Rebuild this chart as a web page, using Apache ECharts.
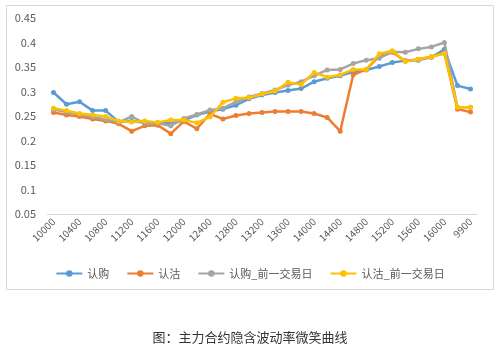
<!DOCTYPE html>
<html>
<head>
<meta charset="utf-8">
<script src="https://cdn.jsdelivr.net/npm/echarts@6/dist/echarts.min.js"></script>
<style>
  html, body { margin: 0; padding: 0; background: #fff; }
  #chart { width: 500px; height: 353px; }
</style>
</head>
<body>
<div id="chart"></div>
<script>
const strikes = ['10000', '10200', '10400', '10600', '10800', '11000', '11200', '11400', '11600', '11800',
  '12000', '12200', '12400', '12600', '12800', '13000', '13200', '13400', '13600', '13800',
  '14000', '14200', '14400', '14600', '14800', '15000', '15200', '15400', '15600', '15800',
  '16000', '16200', '9900'];

const callIV = [0.298, 0.274, 0.279, 0.261, 0.261, 0.238, 0.240, 0.236, 0.236, 0.235,
  0.241, 0.252, 0.259, 0.264, 0.272, 0.285, 0.293, 0.298, 0.302, 0.306,
  0.320, 0.327, 0.332, 0.340, 0.344, 0.351, 0.359, 0.363, 0.364, 0.370,
  0.386, 0.312, 0.305];

const putIV = [0.257, 0.252, 0.249, 0.244, 0.240, 0.234, 0.219, 0.230, 0.231, 0.214,
  0.239, 0.224, 0.254, 0.244, 0.251, 0.255, 0.257, 0.259, 0.259, 0.259,
  0.255, 0.247, 0.219, 0.334, 0.345, 0.372, 0.380, 0.362, 0.366, 0.371,
  0.378, 0.264, 0.258];

const callPrevIV = [0.263, 0.258, 0.253, 0.248, 0.243, 0.237, 0.249, 0.235, 0.235, 0.230,
  0.245, 0.253, 0.262, 0.266, 0.279, 0.289, 0.296, 0.303, 0.313, 0.320,
  0.332, 0.344, 0.345, 0.357, 0.364, 0.368, 0.381, 0.380, 0.387, 0.391,
  0.400, 0.268, 0.268];

const putPrevIV = [0.266, 0.261, 0.255, 0.252, 0.249, 0.240, 0.238, 0.240, 0.237, 0.242,
  0.242, 0.236, 0.248, 0.278, 0.286, 0.287, 0.295, 0.301, 0.319, 0.314,
  0.339, 0.329, 0.334, 0.345, 0.345, 0.377, 0.383, 0.361, 0.366, 0.371,
  0.378, 0.268, 0.268];

const seriesNames = ['认购', '认沽', '认购_前一交易日', '认沽_前一交易日'];
const seriesColors = ['#5B9BD5', '#ED7D31', '#A5A5A5', '#FFC000'];
const seriesData = [callIV, putIV, callPrevIV, putPrevIV];

const chart = echarts.init(document.getElementById('chart'), null, {renderer: 'canvas'});

const font = "'Microsoft YaHei', 'Noto Sans CJK SC', 'Noto Sans', sans-serif";

let option = {
  animation: false,
  textStyle: { fontFamily: font },
  title: {
    text: '图：主力合约隐含波动率微笑曲线',
    left: 'center',
    top: 326,
    textStyle: {
      fontFamily: "'Noto Sans CJK SC', sans-serif",
      fontSize: 13,
      fontWeight: 'normal',
      color: '#333'
    }
  },
  graphic: [{
    type: 'rect',
    shape: { x: 6.5, y: 5.5, width: 487, height: 284 },
    style: { fill: 'none', stroke: '#d9d9d9', lineWidth: 1 },
    silent: true
  }],
  legend: {
    data: seriesNames,
    top: 263,
    left: 'center',
    itemWidth: 26,
    itemHeight: 8,
    itemGap: 17,
    textStyle: { fontSize: 11, color: '#595959', fontFamily: font }
  },
  grid: {
    left: 47,
    right: 23,
    top: 18,
    bottom: 139,
    containLabel: false
  },
  xAxis: {
    type: 'category',
    data: strikes,
    boundaryGap: true,
    axisLine: { lineStyle: { color: '#d9d9d9' } },
    axisTick: { show: false },
    axisLabel: {
      interval: 1,
      rotate: 45,
      fontSize: 10,
      color: '#595959',
      margin: 6
    }
  },
  yAxis: {
    type: 'value',
    min: 0.05,
    max: 0.45,
    interval: 0.05,
    axisLine: { show: false },
    axisTick: { show: false },
    splitLine: { show: false },
    axisLabel: {
      fontSize: 11,
      color: '#595959',
      margin: 11,
      formatter: function (v) { return String(Math.round(v * 100) / 100); }
    }
  },
  series: seriesNames.map(function (name, i) {
    return {
      name: name,
      type: 'line',
      data: seriesData[i],
      color: seriesColors[i],
      symbol: 'circle',
      symbolSize: 5,
      lineStyle: { width: 2.5 },
      z: 2 + i
    };
  })
};

chart.setOption(option);
window.addEventListener('resize', function () {
  chart.resize();
});
</script>
</body>
</html>
